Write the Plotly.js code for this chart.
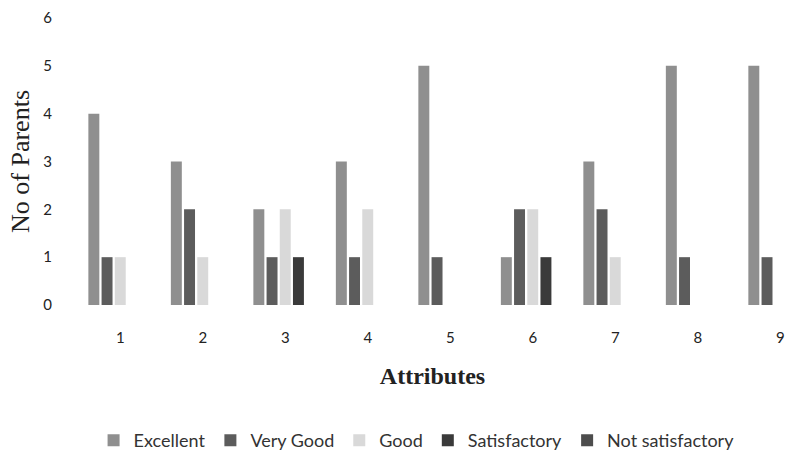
<!DOCTYPE html>
<html>
<head>
<meta charset="utf-8">
<script src="https://cdn.plot.ly/plotly-3.0.1.min.js"></script>
<style>html,body{margin:0;padding:0;background:#fff;}#chart{width:786px;height:459px;}</style>
</head>
<body>
<div id="chart"></div>
<script>
const attributes = [1, 2, 3, 4, 5, 6, 7, 8, 9];
const seriesNames = ["Excellent", "Very Good", "Good", "Satisfactory", "Not satisfactory"];
const excellent = [4, 3, 2, 3, 5, 1, 3, 5, 5];
const veryGood = [1, 2, 1, 1, 1, 2, 2, 1, 1];
const good = [1, 1, 2, 2, 0, 2, 1, 0, 0];
const satisfactory = [0, 0, 1, 0, 0, 1, 0, 0, 0];
const notSatisfactory = [0, 0, 0, 0, 0, 0, 0, 0, 0];
const yTicks = [0, 1, 2, 3, 4, 5, 6];

const seriesValues = [excellent, veryGood, good, satisfactory, notSatisfactory];
const colors = ["#8f8f8f", "#5c5c5c", "#d9d9d9", "#3a3a3a", "#4d4d4d"];

const traces = seriesNames.map((name, i) => ({
  type: "bar",
  name: name,
  x: attributes,
  y: seriesValues[i],
  marker: {color: colors[i]},
  hoverinfo: "x+y+name"
}));

const layout = {
  width: 786,
  height: 459,
  margin: {l: 79, r: 0, t: 18, b: 154},
  paper_bgcolor: "#ffffff",
  plot_bgcolor: "#ffffff",
  barmode: "group",
  bargap: 0.2,
  bargroupgap: 0.17,
  font: {family: "Lato, 'Open Sans', sans-serif", color: "#333333", size: 15},
  xaxis: {
    range: [0.5, 9.07],
    tickmode: "array",
    tickvals: attributes,
    ticktext: attributes.map(String),
    showgrid: false,
    zeroline: false,
    showline: false,
    ticks: "",
    ticklabelstandoff: 22,
    tickfont: {family: "Lato, sans-serif", size: 15, color: "#222"},
    title: {text: "<b>Attributes</b>", font: {family: "'Liberation Serif', 'DejaVu Serif', serif", size: 24, color: "#222"}, standoff: 22}
  },
  yaxis: {
    range: [0, 6],
    tickmode: "array",
    tickvals: yTicks,
    showgrid: false,
    zeroline: false,
    showline: false,
    ticks: "",
    ticklabelstandoff: 26,
    tickfont: {family: "Lato, sans-serif", size: 15, color: "#222"},
    title: {text: "No of Parents", font: {family: "'Liberation Serif', 'DejaVu Serif', serif", size: 26, color: "#222"}, standoff: 6}
  },
  showlegend: true,
  legend: {
    orientation: "h",
    xref: "container",
    yref: "container",
    x: 0.53,
    xanchor: "center",
    y: 0.04,
    yanchor: "middle",
    font: {family: "Lato, sans-serif", size: 18, color: "#333"},
    itemwidth: 30,
    tracegroupgap: 0
  }
};

Plotly.newPlot("chart", traces, layout, {displayModeBar: false, staticPlot: true});
</script>
</body>
</html>
